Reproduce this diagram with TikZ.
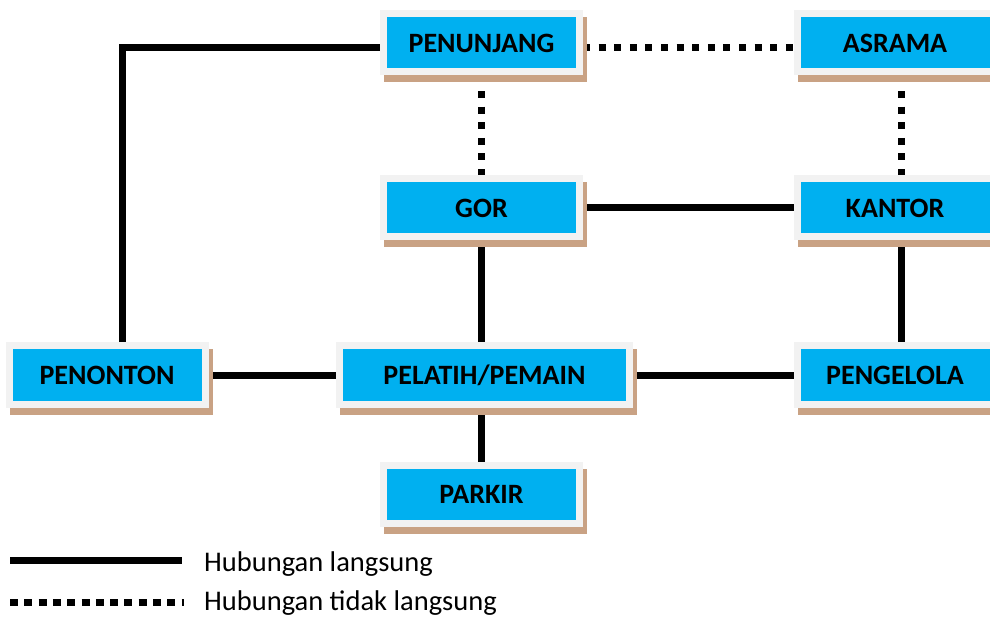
\documentclass[tikz,border=0pt]{standalone}
\usepackage{fontspec}
\setmainfont{Carlito}
\usetikzlibrary{backgrounds}
\definecolor{boxcyan}{RGB}{0,176,240}
\definecolor{boxgray}{RGB}{242,242,242}
\definecolor{shadowc}{RGB}{201,162,132}
\begin{document}
\begin{tikzpicture}[x=1pt,y=-1pt,
  box/.style={draw=boxgray, line width=7pt, fill=boxcyan,
    minimum width=196pt, minimum height=58pt, inner sep=0pt,
    font=\fontsize{28}{30}\selectfont\bfseries, text=black,
    preaction={draw=shadowc, fill=shadowc, transform canvas={xshift=4pt,yshift=-7pt}}},
  solidln/.style={line width=7pt},
  dotln/.style={line width=7pt, dash pattern=on 7pt off 8.6pt},
  legdot/.style={line width=7pt, dash pattern=on 8pt off 6.3pt},
  legtext/.style={anchor=base west, inner sep=0pt, font=\fontsize{28.5}{32}\selectfont}]
\useasboundingbox (0,0) rectangle (990,617);
\node[box] (penunjang) at (481.5,43) {PENUNJANG};
\node[box] (asrama) at (895,43) {ASRAMA};
\node[box] (gor) at (481.5,208) {GOR};
\node[box] (kantor) at (895,208) {KANTOR};
\node[box] (penonton) at (107,375) {PENONTON};
\node[box, minimum width=290pt] (pelatih) at (484.5,375) {PELATIH/PEMAIN};
\node[box] (pengelola) at (895,375) {PENGELOLA};
\node[box] (parkir) at (481.5,494.5) {PARKIR};
\begin{pgfonlayer}{background}
\draw[solidln] ([yshift=-5pt]penunjang.center) -| ([xshift=15pt]penonton.center);
\draw[dotln] ([yshift=-5pt]penunjang.east) -- ([yshift=-5pt]asrama.west);
\draw[dotln] (penunjang.south) -- (gor.north);
\draw[dotln] ([xshift=6pt]asrama.south) -- ([xshift=6pt]kantor.north);
\draw[solidln] (gor.center) -- (kantor.center);
\draw[solidln] (gor.center) -- (gor |- pelatih.center);
\draw[solidln] ([xshift=6pt]kantor.center) -- ([xshift=6pt]pengelola.center);
\draw[solidln] (penonton.center) -- (pelatih.center);
\draw[solidln] (pelatih.center) -- (pengelola.center);
\draw[solidln] (gor |- pelatih.center) -- (parkir.center);
\end{pgfonlayer}
\coordinate (l1a) at (10,560);
\coordinate (l1b) at (182,560);
\coordinate (l2a) at (10,602);
\coordinate (l2b) at (184,602);
\draw[solidln] (l1a) -- (l1b);
\draw[legdot] (l2a) -- (l2b);
\node[legtext] (t1) at (204,571) {Hubungan langsung};
\node[legtext] (t2) at (204,610) {Hubungan tidak langsung};
\end{tikzpicture}
\end{document}
